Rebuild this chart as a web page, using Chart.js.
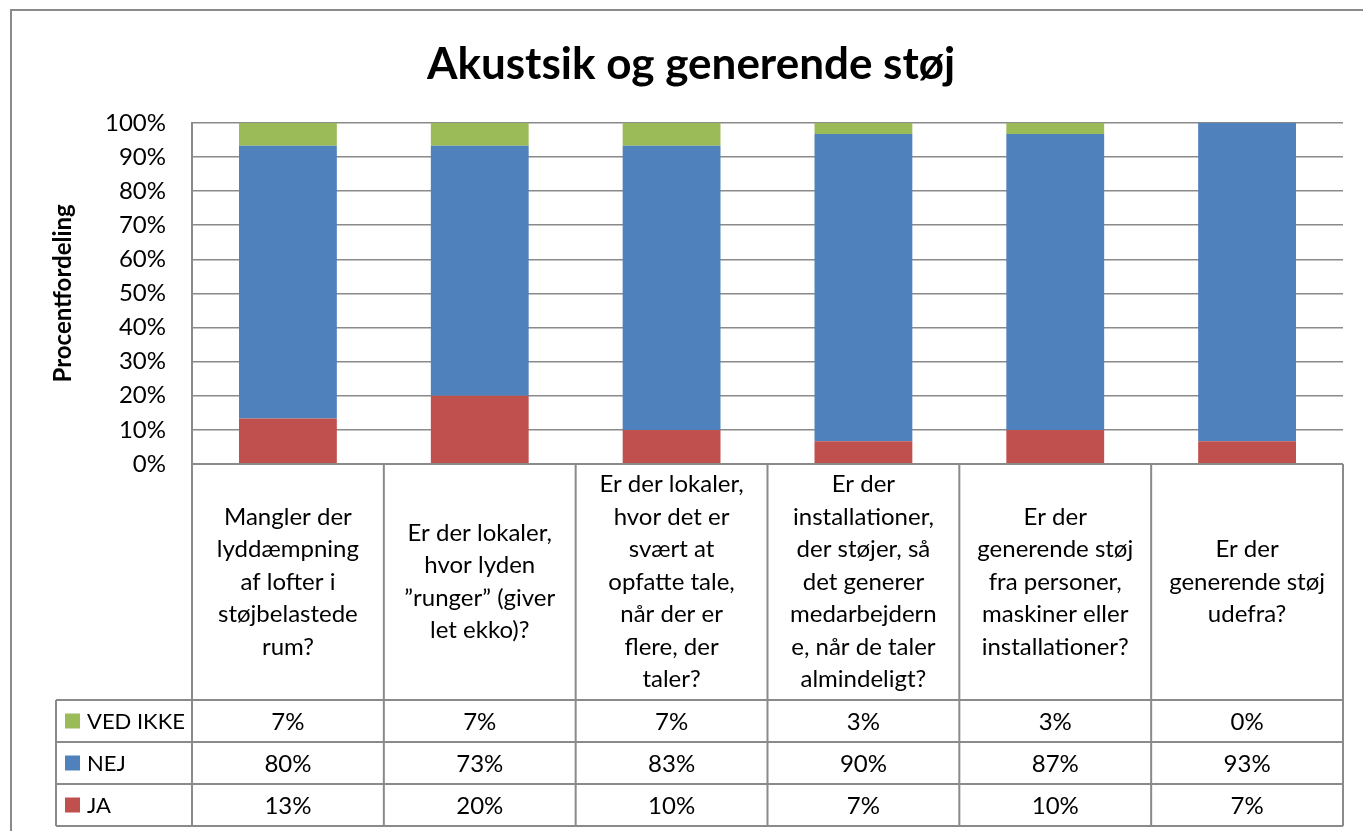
<!DOCTYPE html>
<html>
<head>
<meta charset="utf-8">
<script src="https://cdn.jsdelivr.net/npm/chart.js@4.4.0/dist/chart.umd.min.js"></script>
<style>
  body { margin: 0; background: #fff; }
  #wrap { width: 1363px; height: 831px; position: relative; }
</style>
</head>
<body>
<div id="wrap"><canvas id="myChart"></canvas></div>
<script>
// Kategorier (spørgsmål), linjeskift som i originalen
const categories = [
  ['Mangler der', 'lyddæmpning', 'af lofter i', 'støjbelastede', 'rum?'],
  ['Er der lokaler,', 'hvor lyden', '”runger” (giver', 'let ekko)?'],
  ['Er der lokaler,', 'hvor det er', 'svært at', 'opfatte tale,', 'når der er', 'flere, der', 'taler?'],
  ['Er der', 'installationer,', 'der støjer, så', 'det generer', 'medarbejdern', 'e, når de taler', 'almindeligt?'],
  ['Er der', 'generende støj', 'fra personer,', 'maskiner eller', 'installationer?'],
  ['Er der', 'generende støj', 'udefra?']
];

// Procentfordeling pr. svar
const ja      = [13.3, 20.0, 10.0, 6.7, 10.0, 6.7];
const nej     = [80.0, 73.3, 83.3, 90.0, 86.7, 93.3];
const vedIkke = [6.7, 6.7, 6.7, 3.3, 3.3, 0.0];

const yTicks = [0, 10, 20, 30, 40, 50, 60, 70, 80, 90, 100];

const colors = {
  ja: '#C0504D',
  nej: '#4F81BD',
  vedIkke: '#9BBB59'
};
const lineColor = '#8a8a8a';
const fontFamily = 'Lato, "Open Sans", sans-serif';

// Datatabel under grafen (som i Excel)
const tablePlugin = {
  id: 'dataTable',
  afterDraw(chart) {
    const ctx = chart.ctx;
    const xs = chart.scales.x;
    const area = chart.chartArea;
    const n = categories.length;
    const cw = (xs.right - xs.left) / n;
    const headTop = area.bottom;
    const headBottom = headTop + 236;
    const rowH = 42;
    const legendLeft = 56;
    const rows = [
      { name: 'VED IKKE', color: colors.vedIkke, data: vedIkke },
      { name: 'NEJ', color: colors.nej, data: nej },
      { name: 'JA', color: colors.ja, data: ja }
    ];
    const tableBottom = headBottom + rows.length * rowH;

    ctx.save();
    ctx.strokeStyle = lineColor;
    ctx.lineWidth = 2;

    // ydre ramme
    ctx.beginPath();
    ctx.moveTo(11, chart.height);
    ctx.lineTo(11, 10);
    ctx.lineTo(chart.width, 10);
    ctx.stroke();

    // vandrette linjer
    ctx.beginPath();
    ctx.moveTo(xs.left, headTop);
    ctx.lineTo(xs.right, headTop);
    for (let r = 0; r <= rows.length; r++) {
      const y = headBottom + r * rowH;
      ctx.moveTo(legendLeft, y);
      ctx.lineTo(xs.right, y);
    }
    // lodrette linjer
    for (let i = 0; i <= n; i++) {
      const x = xs.left + i * cw;
      ctx.moveTo(x, headTop);
      ctx.lineTo(x, tableBottom);
    }
    ctx.moveTo(legendLeft, headBottom);
    ctx.lineTo(legendLeft, tableBottom);
    ctx.stroke();

    // kategoritekster
    ctx.fillStyle = '#000';
    ctx.font = '24px ' + fontFamily;
    ctx.textAlign = 'center';
    ctx.textBaseline = 'middle';
    const lh = 32.5;
    const midY = (headTop + headBottom) / 2;
    categories.forEach((lines, i) => {
      const cx = xs.getPixelForValue(i);
      const y0 = midY - (lines.length - 1) * lh / 2;
      lines.forEach((t, k) => ctx.fillText(t, cx, y0 + k * lh));
    });

    // rækker med værdier og forklaring
    rows.forEach((row, r) => {
      const cy = headBottom + r * rowH + rowH / 2;
      ctx.fillStyle = row.color;
      ctx.fillRect(65, cy - 7.5, 15, 15);
      ctx.fillStyle = '#000';
      ctx.font = '22px ' + fontFamily;
      ctx.textAlign = 'left';
      ctx.fillText(row.name, 87, cy + 1);
      ctx.font = '24px ' + fontFamily;
      ctx.textAlign = 'center';
      row.data.forEach((v, i) => {
        ctx.fillText(Math.round(v) + '%', xs.getPixelForValue(i), cy + 1);
      });
    });
    ctx.restore();
  }
};

const ctx = document.getElementById('myChart').getContext('2d');
const chart = new Chart(ctx, {
  type: 'bar',
  data: {
    labels: categories,
    datasets: [
      { label: 'JA', data: ja, backgroundColor: colors.ja },
      { label: 'NEJ', data: nej, backgroundColor: colors.nej },
      { label: 'VED IKKE', data: vedIkke, backgroundColor: colors.vedIkke }
    ]
  },
  options: {
    responsive: true,
    maintainAspectRatio: false,
    animation: false,
    layout: { padding: { left: 39, right: 20, top: 0, bottom: 0 } },
    datasets: {
      bar: { categoryPercentage: 1, barPercentage: 0.51 }
    },
    plugins: {
      legend: { display: false },
      tooltip: { enabled: false },
      title: {
        display: true,
        text: 'Akustsik og generende støj',
        color: '#000',
        font: { family: fontFamily, size: 44, weight: 'bold' },
        padding: { top: 38, bottom: 32 }
      }
    },
    scales: {
      x: {
        stacked: true,
        ticks: { display: false },
        grid: { display: false },
        border: { display: false },
        afterFit(scale) { scale.height = 367; }
      },
      y: {
        stacked: true,
        min: 0,
        max: 100,
        afterBuildTicks(scale) { scale.ticks = yTicks.map(v => ({ value: v })); },
        afterFit(scale) { scale.width = 153; },
        ticks: {
          padding: 26,
          color: '#000',
          font: { family: fontFamily, size: 24 },
          callback: v => v + '%'
        },
        grid: { color: lineColor, lineWidth: 1.5, drawTicks: false },
        border: { display: true, color: lineColor, width: 2 },
        title: {
          display: true,
          text: 'Procentfordeling',
          color: '#000',
          font: { family: fontFamily, size: 24, weight: 'bold' },
          padding: { top: 10, bottom: 0 }
        }
      }
    }
  },
  plugins: [tablePlugin]
});
</script>
</body>
</html>
